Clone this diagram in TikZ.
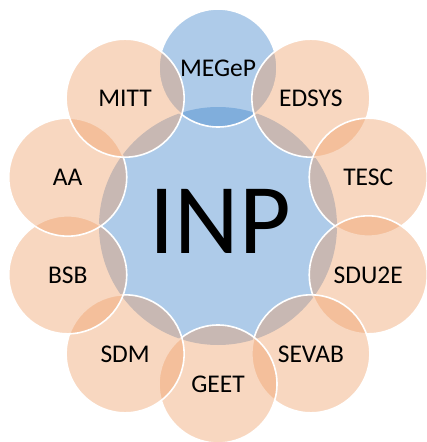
\documentclass[tikz,border=0pt]{standalone}
\usepackage{fontspec}
\setmainfont{Carlito}
\usetikzlibrary{positioning}
\definecolor{petalo}{RGB}{238,158,102}
\definecolor{nucleo}{RGB}{68,135,204}

\begin{document}
\begin{tikzpicture}[
    x=1pt, y=1pt,
    % Stili base
    core/.style={circle, fill=nucleo, fill opacity=0.43, minimum size=238pt, inner sep=0pt},
    petal/.style={circle, fill=petalo, fill opacity=0.41, draw=white, line width=1.6pt, minimum size=118pt, inner sep=0pt},
    bluepetal/.style={petal, fill=nucleo, fill opacity=0.43},
    % Testo
    bigtext/.style={font=\fontsize{100}{110}\selectfont, text=black, inner sep=0pt},
    petaltext/.style={font=\fontsize{25.5}{30}\selectfont, text=black, inner sep=0pt}
]

\useasboundingbox (-218,-216) rectangle (208,226);

% === CERCHIO CENTRALE ===
\node[core] (inp) at (0,0) {};

% === CERCHI ESTERNI ===
\node[bluepetal] (megep) at (90:158) {};
\node[petal] (edsys) at (54:158) {};
\node[petal] (tesc) at (18:158) {};
\node[petal] (sdu2e) at (-18:158) {};
\node[petal] (sevab) at (-54:158) {};
\node[petal] (geet) at (-90:158) {};
\node[petal] (sdm) at (-126:158) {};
\node[petal] (bsb) at (-162:158) {};
\node[petal] (aa) at (162:158) {};
\node[petal] (mitt) at (126:158) {};

% === ETICHETTE ===
\node[bigtext] (inptext) at (2,4.5) {INP};
\node[petaltext] (megeptext) at (megep) {MEGeP};
\node[petaltext] (edsystext) at (edsys) {EDSYS};
\node[petaltext] (tesctext) at (tesc) {TESC};
\node[petaltext] (sdu2etext) at (sdu2e) {SDU2E};
\node[petaltext] (sevabtext) at (sevab) {SEVAB};
\node[petaltext] (geettext) at (geet) {GEET};
\node[petaltext] (sdmtext) at (sdm) {SDM};
\node[petaltext] (bsbtext) at (bsb) {BSB};
\node[petaltext] (aatext) at (aa) {AA};
\node[petaltext] (mitttext) at (mitt) {MITT};

\end{tikzpicture}
\end{document}
